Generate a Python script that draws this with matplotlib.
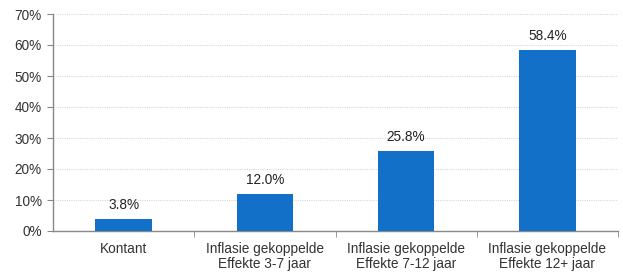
import matplotlib
matplotlib.use("Agg")
import matplotlib.pyplot as plt
from matplotlib.ticker import FuncFormatter, FixedLocator

categories = ["Kontant", "Inflasie gekoppelde\nEffekte 3-7 jaar",
              "Inflasie gekoppelde\nEffekte 7-12 jaar", "Inflasie gekoppelde\nEffekte 12+ jaar"]
values = [3.8, 12.0, 25.8, 58.4]
yticks = [0, 10, 20, 30, 40, 50, 60, 70]

plt.rcParams['font.family'] = ['Liberation Sans', 'DejaVu Sans']

fig = plt.figure(figsize=(6.23, 2.73), dpi=100)
ax = fig.add_axes([53/623, 1-231/273, (618-53)/623, (231-14)/273])

x = list(range(len(categories)))
ax.bar(x, values, width=0.4, color="#1270C8", zorder=3)
for xi, v in zip(x, values):
    ax.text(xi, v + 2.2, f"{v:.1f}%", ha="center", va="bottom", fontsize=9.8, color="#222222")

ax.set_xlim(-0.5, len(categories) - 0.5)
ax.set_ylim(0, 70)
ax.set_yticks(yticks)
ax.yaxis.set_major_formatter(FuncFormatter(lambda v, p: f"{v:.0f}%"))
ax.yaxis.grid(True, color="#d8d8d8", linestyle=(0, (1, 1)), linewidth=0.8, zorder=0)

ax.set_xticks(x)
ax.set_xticklabels(categories, linespacing=1.1)
ax.tick_params(axis="x", which="major", length=0, pad=8, labelsize=9.8, labelcolor="#333333")
ax.xaxis.set_minor_locator(FixedLocator([0.5, 1.5, 2.5, 3.5]))
ax.tick_params(axis="x", which="minor", length=4, color="#888888", direction="out")
ax.tick_params(axis="y", length=4, color="#888888", labelsize=9.8, labelcolor="#333333", pad=4)

for s in ["top", "right"]:
    ax.spines[s].set_visible(False)
for s in ["left", "bottom"]:
    ax.spines[s].set_color("#888888")
    ax.spines[s].set_linewidth(1)

fig.savefig("out.png", dpi=100)
